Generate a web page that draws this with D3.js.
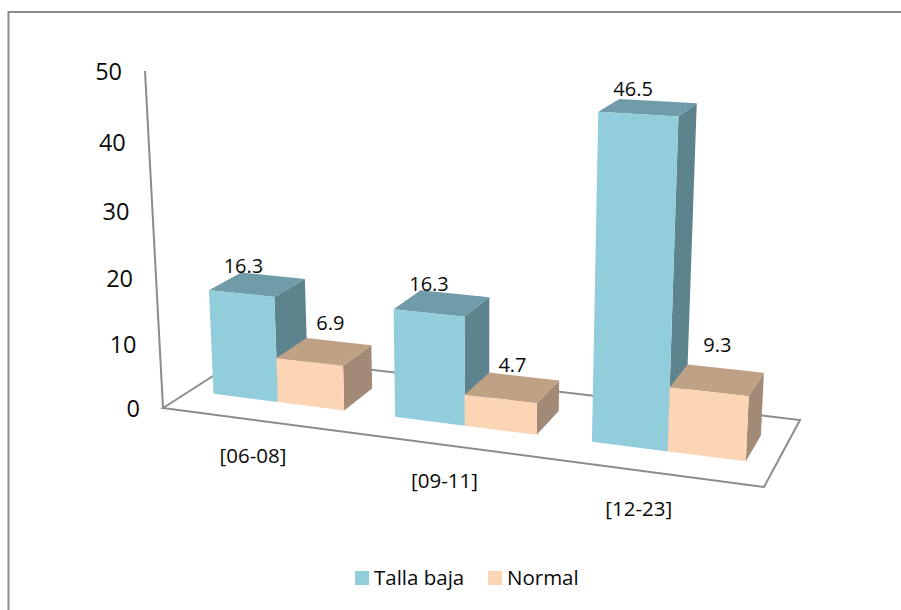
<!DOCTYPE html>
<html>
<head>
<meta charset="utf-8">
<script src="https://cdnjs.cloudflare.com/ajax/libs/d3/7.8.5/d3.min.js"></script>
<style>
  html, body { margin: 0; padding: 0; background: #fff; }
  svg { display: block; }
  text { font-family: "Open Sans", sans-serif; fill: #0a0a0a; }
</style>
</head>
<body>
<div id="chart"></div>
<script>
// Chart values
const categories = ["[06-08]", "[09-11]", "[12-23]"];
const seriesNames = ["Talla baja", "Normal"];
const tallaBaja = [16.3, 16.3, 46.5];
const normal = [6.9, 4.7, 9.3];
const yTicks = [0, 10, 20, 30, 40, 50];

// Face colours for each series: front, top, side
const faceColors = {
  "Talla baja": { front: "#92CDDC", top: "#6F9CA8", side: "#5D838D" },
  "Normal": { front: "#FCD5B5", top: "#BFA186", side: "#A38A76" }
};

// Small hand adjustments for text placement, in pixels
const valueLabelNudge = {
  "Talla baja": [[-14, -19], [-13, -19], [-15, -19]],
  "Normal": [[6, -29], [0, -23], [0, -35]]
};
const categoryLabelNudge = [0, 0, -14];

const width = 901, height = 610;
const svg = d3.select("#chart").append("svg")
  .attr("width", width).attr("height", height);

// Perspective camera: the floor is a homography of the unit square,
// the value direction runs towards a far vanishing point below the plot.
const floorCorners = [[163, 408], [764, 487], [800, 420], [246, 355]];
const verticalVanishing = [479, 6326];
const verticalStrength = -0.05388;

function floorHomography([p0, p1, p2, p3]) {
  const dx1 = p1[0] - p2[0], dx2 = p3[0] - p2[0], sx = p0[0] - p1[0] + p2[0] - p3[0];
  const dy1 = p1[1] - p2[1], dy2 = p3[1] - p2[1], sy = p0[1] - p1[1] + p2[1] - p3[1];
  const det = dx1 * dy2 - dx2 * dy1;
  const g = (sx * dy2 - dx2 * sy) / det;
  const h = (dx1 * sy - sx * dy1) / det;
  return {
    a: p1[0] - p0[0] + g * p1[0], b: p3[0] - p0[0] + h * p3[0], c: p0[0],
    d: p1[1] - p0[1] + g * p1[1], e: p3[1] - p0[1] + h * p3[1], f: p0[1],
    g, h
  };
}
const H = floorHomography(floorCorners);

// Value scale gives the fraction of the wall height
const heightScale = d3.scaleLinear().domain([0, 50]).range([0, 1]);

function project(u, w, value) {
  const k = verticalStrength * heightScale(value);
  const W = H.g * u + H.h * w + 1 + k;
  return [
    (H.a * u + H.b * w + H.c + k * verticalVanishing[0]) / W,
    (H.d * u + H.e * w + H.f + k * verticalVanishing[1]) / W
  ];
}

// Category and series bands along the floor width (75% gap between groups)
const xBand = d3.scaleBand().domain(categories).range([0, 1])
  .paddingInner(3 / 11).paddingOuter(3 / 22);
const seriesBand = d3.scaleBand().domain(seriesNames).range([0, xBand.bandwidth()]);
const depthFront = 0.305, depthBack = 0.695;

const line = d3.line();
const closed = pts => line(pts) + "Z";

// Chart frame, only its top and left edges fall inside the page
svg.append("path")
  .attr("d", line([[8.5, height], [8.5, 12], [width, 12]]))
  .attr("fill", "none").attr("stroke", "#8C8C8C").attr("stroke-width", 2);

// Floor outline and value axis
svg.append("path")
  .attr("d", closed([project(0, 0, 0), project(1, 0, 0), project(1, 1, 0), project(0, 1, 0)]))
  .attr("fill", "#fff").attr("stroke", "#8C8C8C").attr("stroke-width", 2);
svg.append("path")
  .attr("d", line([project(0, 0, 0), project(0, 0, 50)]))
  .attr("fill", "none").attr("stroke", "#8C8C8C").attr("stroke-width", 2);

// Value axis labels follow the tilted axis
svg.append("g").selectAll("text").data(yTicks).join("text")
  .attr("x", d => project(0, 0, d)[0] - 23)
  .attr("y", d => project(0, 0, d)[1] + 1)
  .attr("dy", "0.36em")
  .attr("text-anchor", "end")
  .attr("font-size", 23.5)
  .text(d => d);

// Bars, one series after the other inside each category
const seriesValues = { "Talla baja": tallaBaja, "Normal": normal };
const barsLayer = svg.append("g");
categories.forEach((cat, i) => {
  seriesNames.forEach(name => {
    const v = seriesValues[name][i];
    const u0 = xBand(cat) + seriesBand(name);
    const u1 = u0 + seriesBand.bandwidth();
    const colors = faceColors[name];
    const g = barsLayer.append("g");
    g.append("path").attr("fill", colors.side).attr("d", closed([
      project(u1, depthFront, 0), project(u1, depthBack, 0),
      project(u1, depthBack, v), project(u1, depthFront, v)
    ]));
    g.append("path").attr("fill", colors.top).attr("d", closed([
      project(u0, depthFront, v), project(u1, depthFront, v),
      project(u1, depthBack, v), project(u0, depthBack, v)
    ]));
    g.append("path").attr("fill", colors.front).attr("d", closed([
      project(u0, depthFront, 0), project(u1, depthFront, 0),
      project(u1, depthFront, v), project(u0, depthFront, v)
    ]));
  });
});

// Value labels sit above the centre of each bar's top face
seriesNames.forEach(name => {
  categories.forEach((cat, i) => {
    const v = seriesValues[name][i];
    const um = xBand(cat) + seriesBand(name) + seriesBand.bandwidth() / 2;
    const [px, py] = project(um, (depthFront + depthBack) / 2, v);
    const [nx, ny] = valueLabelNudge[name][i];
    svg.append("text")
      .attr("x", px + nx).attr("y", py + ny).attr("dy", "0.36em")
      .attr("text-anchor", "middle").attr("font-size", 20)
      .text(d3.format(".1f")(v));
  });
});

// Category labels under the front floor edge
svg.append("g").selectAll("text").data(categories).join("text")
  .attr("x", (d, i) => project(xBand(d) + xBand.bandwidth() / 2, 0, 0)[0] + categoryLabelNudge[i])
  .attr("y", d => project(xBand(d) + xBand.bandwidth() / 2, 0, 0)[1] + 36)
  .attr("dy", "0.36em")
  .attr("text-anchor", "middle").attr("font-size", 20.5)
  .text(d => d);

// Legend
const legendEntries = [
  { name: seriesNames[0], swatchX: 355 },
  { name: seriesNames[1], swatchX: 488 }
];
const legend = svg.append("g").selectAll("g").data(legendEntries).join("g")
  .attr("transform", d => `translate(${d.swatchX},571)`);
legend.append("rect").attr("width", 14).attr("height", 14)
  .attr("fill", d => faceColors[d.name].front);
legend.append("text").attr("x", 19).attr("y", 7).attr("dy", "0.36em")
  .attr("font-size", 20.5).text(d => d.name);
</script>
</body>
</html>
